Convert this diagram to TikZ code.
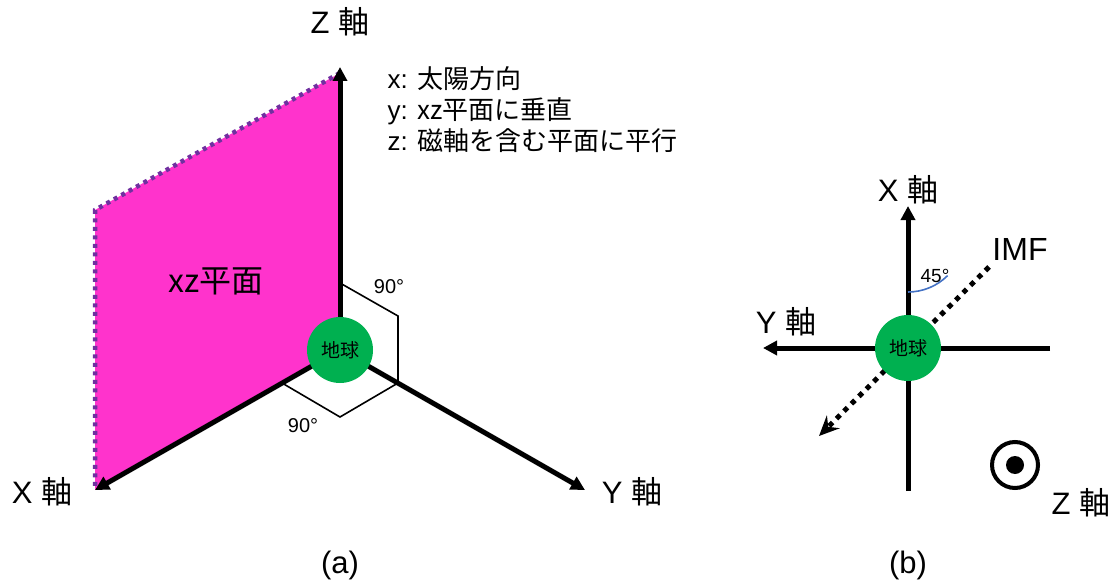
\documentclass[tikz,border=0pt]{standalone}
\usepackage{fontspec}
\setmainfont{Liberation Sans}
\newfontfamily\jpfont{Noto Sans CJK JP}
\newcommand{\jp}[1]{{\jpfont #1}}
\usetikzlibrary{arrows.meta}
\definecolor{earthgreen}{HTML}{00B050}
\definecolor{planepink}{HTML}{FF33CC}
\definecolor{planeedge}{HTML}{7030A0}
\definecolor{arcblue}{HTML}{4472C4}
\tikzset{
    axisline/.style={
        line width=5pt, -{Triangle[length=14pt,width=14pt]}
    },
    earth/.style={
        circle, fill=earthgreen, minimum size=66pt, inner sep=0pt,
        font=\jpfont\fontsize{19}{19}\selectfont
    },
    axislabel/.style={
        font=\fontsize{31}{31}\selectfont
    },
    anglemark/.style={
        line width=1.6pt, line join=miter
    },
    anglelabel/.style={
        font=\fontsize{20}{20}\selectfont
    },
    note/.style={
        font=\fontsize{26}{31}\selectfont, align=left, anchor=west
    },
    caption/.style={
        font=\fontsize{31}{31}\selectfont
    }
}

\begin{document}
\begin{tikzpicture}[x=1pt, y=-1pt]
    \useasboundingbox (0,0) rectangle (1118,588);

    % (a) xz plane with axes
    \coordinate (oa) at (340,350);
    \coordinate (ztip) at (340,67);
    \coordinate (xtip) at (95,490);
    \coordinate (ytip) at (585,490);
    \coordinate (ptop) at (340,73);
    \coordinate (pleft) at (95,210);

    \fill[planepink] (oa) -- (ptop) -- (pleft) -- (xtip) -- cycle;
    \draw[planeedge, line width=4.5pt, dash pattern=on 4pt off 4.5pt]
        (ptop) -- (pleft) -- (xtip);

    \draw[axisline] (oa) -- (ztip);
    \draw[axisline] (oa) -- (xtip);
    \draw[axisline] (oa) -- (ytip);

    \draw[anglemark] (340,283) -- (398,316) -- (398,383);
    \draw[anglemark] (282,383) -- (340,417) -- (398,383);
    \node[anglelabel] (rz) at (389,287) {90°};
    \node[anglelabel] (rx) at (303,426) {90°};

    \node[earth] (eartha) at (oa) {地球};

    \node[axislabel] (zlab) at (340,22) {Z \jp{軸}};
    \node[axislabel] (xlab) at (42,492) {X \jp{軸}};
    \node[axislabel] (ylab) at (632,492) {Y \jp{軸}};
    \node[font=\jpfont\fontsize{32}{32}\selectfont] (plane) at (216,281) {xz平面};
    \node[note] (axes) at (384,110)
        {x: \jp{太陽方向}\\ y: \jp{xz平面に垂直}\\ z: \jp{磁軸を含む平面に平行}};
    \node[caption] (capa) at (340,565) {(a)};

    % (b) seen from the z direction
    \coordinate (ob) at (908,348);
    \coordinate (xbtip) at (908,206);
    \coordinate (xbend) at (908,491);
    \coordinate (ybtip) at (763,348);
    \coordinate (ybend) at (1050,348);
    \coordinate (imfs) at (989,267);
    \coordinate (imfe) at (819,436);

    \draw[axisline] (xbend) -- (xbtip);
    \draw[axisline] (ybend) -- (ybtip);
    \draw[line width=5pt, dash pattern=on 5pt off 5.5pt,
          -{Stealth[length=20pt,width=18pt,inset=7pt]}] (imfs) -- (imfe);
    \draw[arcblue, line width=1.6pt] (908,292) arc[start angle=90, end angle=45, radius=56];

    \node[earth] (earthb) at (ob) {地球};

    \node[axislabel] (xblab) at (908,190) {X \jp{軸}};
    \node[axislabel] (yblab) at (786,322) {Y \jp{軸}};
    \node[axislabel, font=\fontsize{32}{32}\selectfont] (imf) at (1020,249) {IMF};
    \node[anglelabel, font=\fontsize{19}{19}\selectfont] (ang) at (935,276) {45°};

    \node[circle, draw, line width=4pt, minimum size=46pt, inner sep=0pt] (zout) at (1015,465) {};
    \node[circle, fill, minimum size=18pt, inner sep=0pt] (zdot) at (zout) {};
    \node[axislabel] (zblab) at (1081,503) {Z \jp{軸}};
    \node[caption] (capb) at (908,565) {(b)};
\end{tikzpicture}
\end{document}
